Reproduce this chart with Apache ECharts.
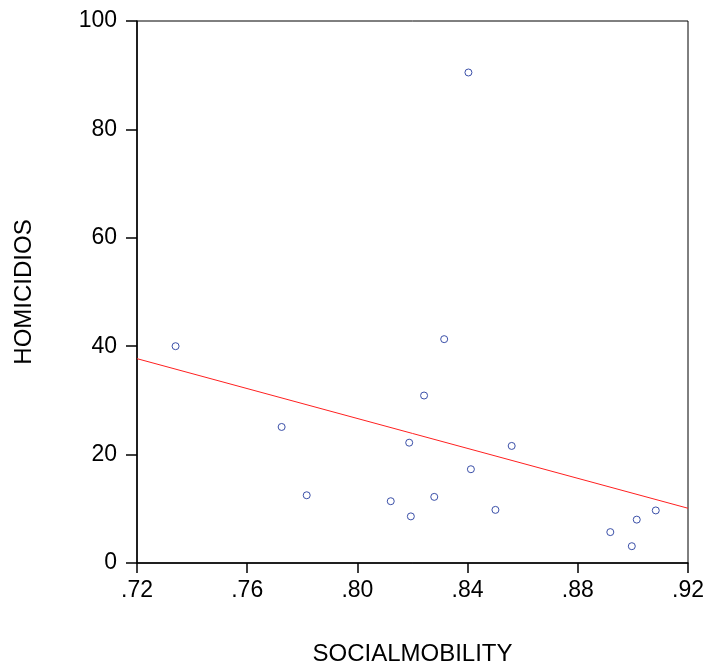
<!DOCTYPE html>
<html>
<head>
<meta charset="utf-8">
<script src="https://cdn.jsdelivr.net/npm/echarts@6/dist/echarts.min.js"></script>
<style>
html,body{margin:0;padding:0;background:#fff;}
#chart{width:706px;height:668px;}
</style>
</head>
<body>
<div id="chart"></div>
<script>
var socialMobility = [0.7340, 0.7725, 0.7816, 0.8121, 0.8188, 0.8194, 0.8242, 0.8279, 0.8315, 0.8403, 0.8412, 0.8501, 0.8560, 0.8918, 0.8996, 0.9014, 0.9083];
var homicidios     = [40.0, 25.1, 12.5, 11.4, 22.2, 8.6, 30.9, 12.2, 41.3, 90.5, 17.3, 9.8, 21.6, 5.7, 3.1, 8.0, 9.7];
var fitX = [0.72, 0.92];
var fitY = [37.7, 10.1];
var xTicks = ['.72', '.76', '.80', '.84', '.88', '.92'];
var yTicks = ['0', '20', '40', '60', '80', '100'];

var points = socialMobility.map(function (x, i) { return [x, homicidios[i]]; });
var fitLine = fitX.map(function (x, i) { return [x, fitY[i]]; });

var chart = echarts.init(document.getElementById('chart'), null, {renderer: 'canvas'});
var font = 'Liberation Sans, Arial, sans-serif';
chart.setOption({
  animation: false,
  backgroundColor: '#fff',
  grid: {left: 137, top: 21, right: 18, bottom: 105, show: true, borderColor: '#000', borderWidth: 1, containLabel: false, outerBoundsMode: 'none'},
  xAxis: {
    type: 'value', min: 0.72, max: 0.92, interval: 0.04,
    name: 'SOCIALMOBILITY', nameLocation: 'middle', nameGap: 79,
    nameTextStyle: {fontFamily: font, fontSize: 24, color: '#000'},
    axisLine: {show: true, lineStyle: {color: '#000', width: 1.5}},
    axisTick: {show: true, inside: false, length: 10, lineStyle: {color: '#000', width: 1.5}},
    axisLabel: {
      margin: 16, fontFamily: font, fontSize: 23, color: '#000',
      formatter: function (v) { var i = Math.round((v - 0.72) / 0.04); return xTicks[i] || ''; }
    },
    splitLine: {show: false}
  },
  yAxis: {
    type: 'value', min: 0, max: 100, interval: 20,
    name: 'HOMICIDIOS', nameLocation: 'middle', nameGap: 101, nameRotate: 90,
    nameTextStyle: {fontFamily: font, fontSize: 24, color: '#000'},
    axisLine: {show: true, lineStyle: {color: '#000', width: 1.5}},
    axisTick: {show: true, inside: false, length: 11, lineStyle: {color: '#000', width: 1.5}},
    axisLabel: {
      margin: 20, fontFamily: font, fontSize: 23, color: '#000',
      formatter: function (v) { var i = Math.round(v / 20); return yTicks[i] || ''; }
    },
    splitLine: {show: false}
  },
  series: [
    {
      type: 'line', data: fitLine, symbol: 'none', silent: true,
      lineStyle: {color: '#ff2020', width: 1}, z: 2
    },
    {
      type: 'scatter', data: points, symbol: 'circle', symbolSize: 7,
      itemStyle: {color: '#fff', borderColor: '#3a4fa8', borderWidth: 1, opacity: 1}, z: 3
    }
  ]
});
</script>
</body>
</html>
